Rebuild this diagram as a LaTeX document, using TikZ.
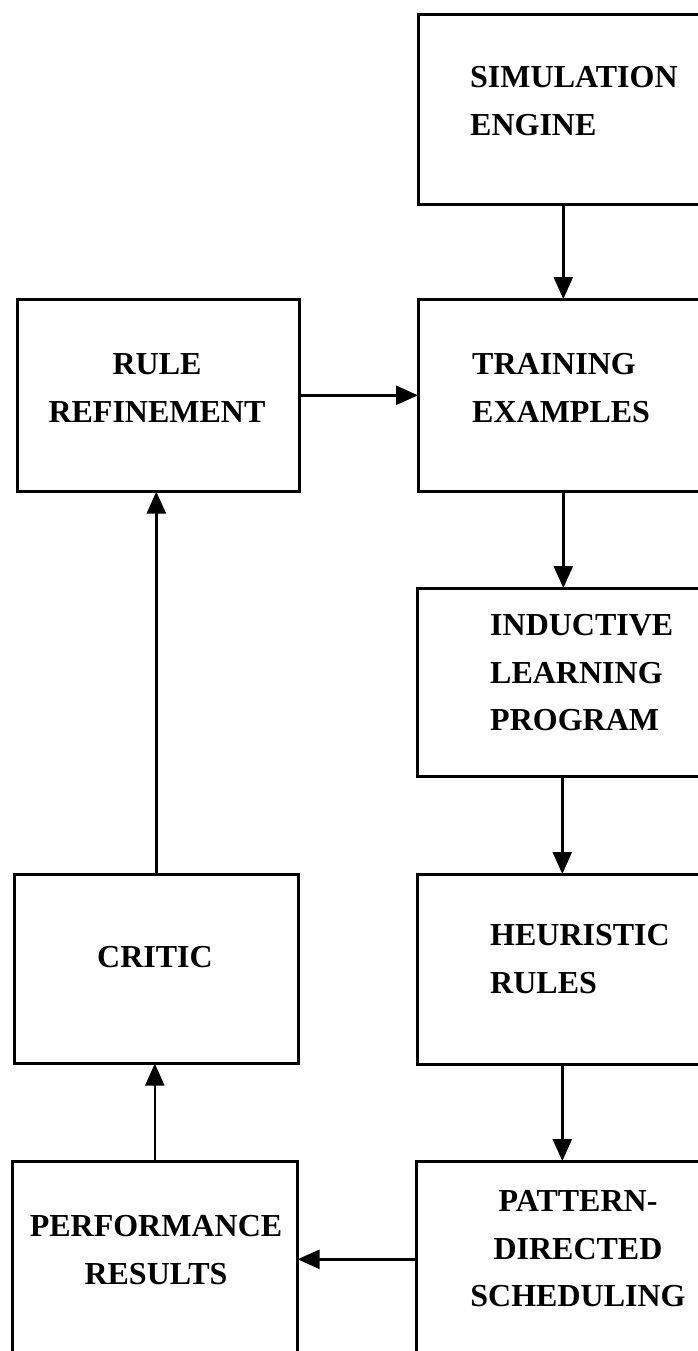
\documentclass[tikz,border=0pt]{standalone}
\usepackage{fontspec}
\setmainfont{Liberation Serif}
\usetikzlibrary{arrows.meta}
\begin{document}
\begin{tikzpicture}[x=1pt,y=-1pt,
  boxnode/.style={draw=black, line width=2.6pt, rectangle, inner sep=0pt, anchor=north west},
  txt/.style={font=\bfseries\fontsize{32}{47.5}\selectfont, inner sep=0pt},
  conn/.style={line width=2.6pt, -{Triangle[length=22pt,width=19pt]}, shorten >=-1pt}
]
\useasboundingbox (0,0) rectangle (698,1351);
\clip (0,0) rectangle (698,1351);
\fill[white] (0,0) rectangle (698,1351);

% boxes
\node[boxnode, minimum width=290pt, minimum height=190pt] (sim) at (417,13) {};
\node[boxnode, minimum width=290pt, minimum height=192pt] (train) at (417,298) {};
\node[boxnode, minimum width=282pt, minimum height=192pt] (rule) at (16,298) {};
\node[boxnode, minimum width=290pt, minimum height=188pt] (ind) at (416,587) {};
\node[boxnode, minimum width=290pt, minimum height=190pt] (heur) at (416,873) {};
\node[boxnode, minimum width=284pt, minimum height=189pt] (critic) at (13,873) {};
\node[boxnode, minimum width=290pt, minimum height=196pt] (pat) at (415,1160) {};
\node[boxnode, minimum width=285pt, minimum height=196pt] (perf) at (11,1160) {};

% texts
\node[txt, align=left, anchor=west] (simT) at (470,101) {SIMULATION\\ENGINE};
\node[txt, align=left, anchor=west] (trainT) at (472,388) {TRAINING\\EXAMPLES};
\node[txt, align=center] (ruleT) at (157,388) {RULE\\REFINEMENT};
\node[txt, align=left, anchor=west] (indT) at (490,673) {INDUCTIVE\\LEARNING\\PROGRAM};
\node[txt, align=left, anchor=west] (heurT) at (490,959) {HEURISTIC\\RULES};
\node[txt, align=center] (criticT) at (155,957) {CRITIC};
\node[txt, align=center] (patT) at (578,1249) {PATTERN-\\DIRECTED\\SCHEDULING};
\node[txt, align=center] (perfT) at (156,1250) {PERFORMANCE\\RESULTS};

% connectors
\draw[conn] (sim.south) -- (train.north);
\draw[conn] (rule.east) -- (rule.east -| train.west);
\draw[conn] (train.south) -- (train.south |- ind.north);
\draw[conn] (ind.south) -- (heur.north);
\draw[conn] (heur.south) -- (heur.south |- pat.north);
\draw[conn] (pat.west) -- (pat.west -| perf.east);
\draw[conn] (perf.north) -- (perf.north |- critic.south);
\draw[conn] (critic.north) -- (critic.north |- rule.south);
\end{tikzpicture}
\end{document}
